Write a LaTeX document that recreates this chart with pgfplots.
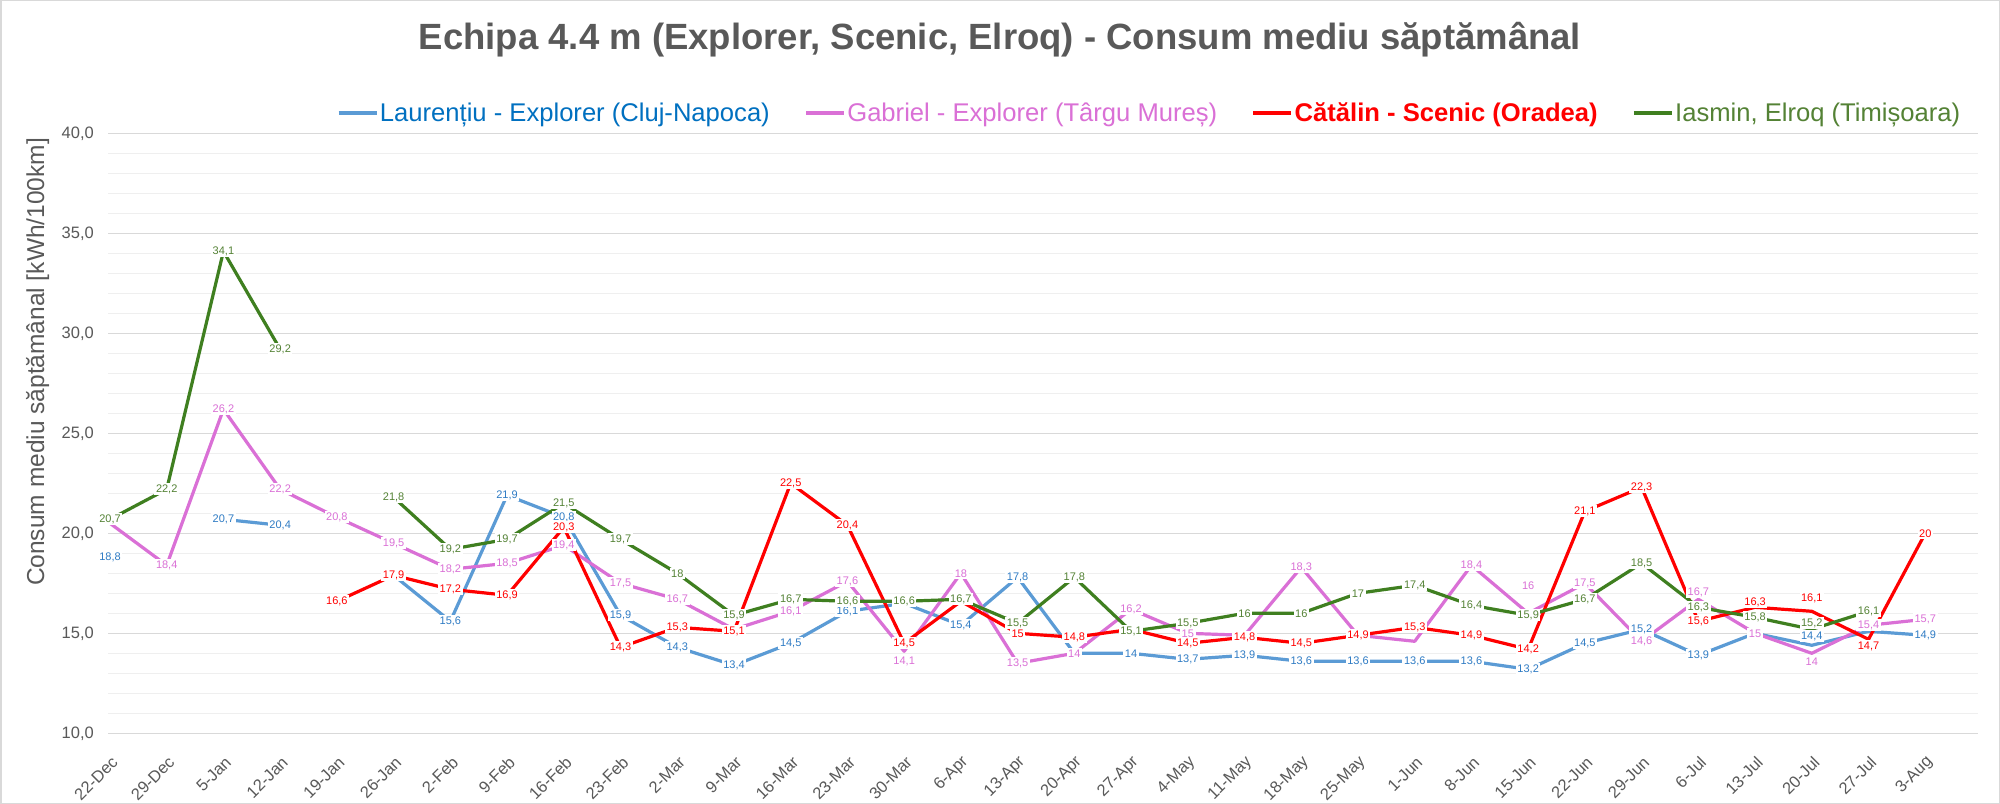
\documentclass[border=0pt]{standalone}
\usepackage{pgfplots}
\pgfplotsset{compat=1.18}
\usepackage{pgfplotstable}
\usepackage{fontspec}
\setmainfont{Liberation Sans}
\definecolor{bline}{HTML}{5B9BD5}
\definecolor{blab}{HTML}{2E7BC4}
\definecolor{bleg}{HTML}{0070C0}
\definecolor{pline}{HTML}{DA70D6}
\definecolor{rline}{HTML}{FF0000}
\definecolor{gline}{HTML}{3F7F20}
\definecolor{glab}{HTML}{548235}
\definecolor{txtgray}{HTML}{595959}
\definecolor{gridmaj}{HTML}{D9D9D9}
\definecolor{gridmin}{HTML}{EFEFEF}
\newcommand\lblfont{\fontsize{11bp}{13bp}\selectfont}

\pgfplotstableread{
x y ly lab dy
0 18.8 18.8 18,8 0
1 nan nan - 0
2 20.7 20.7 20,7 0
3 20.4 20.4 20,4 0
4 nan nan - 0
5 17.9 nan 17,9 0
6 15.6 15.6 15,6 0
7 21.9 21.9 21,9 0
8 20.8 20.8 20,8 0
9 15.9 15.9 15,9 0
10 14.3 14.3 14,3 0
11 13.4 13.4 13,4 0
12 14.5 14.5 14,5 0
13 16.1 16.1 16,1 0
14 16.5 nan 16,5 0
15 15.4 15.4 15,4 0
16 17.8 17.8 17,8 0
17 14.0 nan 14 0
18 14.0 14.0 14 0
19 13.7 13.7 13,7 0
20 13.9 13.9 13,9 0
21 13.6 13.6 13,6 0
22 13.6 13.6 13,6 0
23 13.6 13.6 13,6 0
24 13.6 13.6 13,6 0
25 13.2 13.2 13,2 0
26 14.5 14.5 14,5 0
27 15.2 15.2 15,2 0
28 13.9 13.9 13,9 0
29 15.0 15.0 15 0
30 14.4 14.4 14,4 9
31 15.1 nan 15,1 0
32 14.9 14.9 14,9 0
}\tblue

\pgfplotstableread{
x y ly lab dy
0 20.5 nan 20,5 0
1 18.4 18.4 18,4 0
2 26.2 26.2 26,2 0
3 22.2 22.2 22,2 0
4 20.8 20.8 20,8 0
5 19.5 19.5 19,5 0
6 18.2 18.2 18,2 0
7 18.5 18.5 18,5 0
8 19.4 19.4 19,4 0
9 17.5 17.5 17,5 0
10 16.7 16.7 16,7 0
11 15.2 nan 15,2 0
12 16.1 16.1 16,1 0
13 17.6 17.6 17,6 0
14 14.1 14.1 14,1 -10
15 18.0 18.0 18 0
16 13.5 13.5 13,5 0
17 14.0 14.0 14 0
18 16.2 16.2 16,2 0
19 15.0 15.0 15 0
20 14.9 nan 14,9 0
21 18.3 18.3 18,3 0
22 14.9 nan 14,9 0
23 14.6 nan 14,6 0
24 18.4 18.4 18,4 0
25 16.0 16.0 16 28
26 17.5 17.5 17,5 0
27 14.6 14.6 14,6 0
28 16.7 16.7 16,7 7
29 15.0 15.0 15 0
30 14.0 14.0 14 -8
31 15.4 15.4 15,4 0
32 15.7 15.7 15,7 0
}\tpink

\pgfplotstableread{
x y ly lab dy
0 nan nan - 0
1 nan nan - 0
2 nan nan - 0
3 nan nan - 0
4 16.6 16.6 16,6 0
5 17.9 17.9 17,9 0
6 17.2 17.2 17,2 0
7 16.9 16.9 16,9 0
8 20.3 20.3 20,3 0
9 14.3 14.3 14,3 0
10 15.3 15.3 15,3 0
11 15.1 15.1 15,1 0
12 22.5 22.5 22,5 0
13 20.4 20.4 20,4 0
14 14.5 14.5 14,5 0
15 16.6 nan 16,6 0
16 15.0 15.0 15 0
17 14.8 14.8 14,8 0
18 15.2 nan 15,2 0
19 14.5 14.5 14,5 0
20 14.8 14.8 14,8 0
21 14.5 14.5 14,5 0
22 14.9 14.9 14,9 0
23 15.3 15.3 15,3 0
24 14.9 14.9 14,9 0
25 14.2 14.2 14,2 0
26 21.1 21.1 21,1 0
27 22.3 22.3 22,3 0
28 15.6 15.6 15,6 0
29 16.3 16.3 16,3 5
30 16.1 16.1 16,1 13
31 14.7 14.7 14,7 -7
32 20.0 20.0 20 0
}\tred

\pgfplotstableread{
x y ly lab dy
0 20.7 20.7 20,7 0
1 22.2 22.2 22,2 0
2 34.1 34.1 34,1 0
3 29.2 29.2 29,2 0
4 nan nan - 0
5 21.8 21.8 21,8 0
6 19.2 19.2 19,2 0
7 19.7 19.7 19,7 0
8 21.5 21.5 21,5 0
9 19.7 19.7 19,7 0
10 18.0 18.0 18 0
11 15.9 15.9 15,9 0
12 16.7 16.7 16,7 0
13 16.6 16.6 16,6 0
14 16.6 16.6 16,6 0
15 16.7 16.7 16,7 0
16 15.5 15.5 15,5 0
17 17.8 17.8 17,8 0
18 15.1 15.1 15,1 0
19 15.5 15.5 15,5 0
20 16.0 16.0 16 0
21 16.0 16.0 16 0
22 17.0 17.0 17 0
23 17.4 17.4 17,4 0
24 16.4 16.4 16,4 0
25 15.9 15.9 15,9 0
26 16.7 16.7 16,7 0
27 18.5 18.5 18,5 0
28 16.3 16.3 16,3 0
29 15.8 15.8 15,8 0
30 15.2 15.2 15,2 6
31 16.1 16.1 16,1 0
32 nan nan - 0
}\tgreen

\pgfplotsset{
  lblplot/.style={draw=none, mark=none, forget plot, unbounded coords=discard,
    nodes near coords, point meta=explicit symbolic,
    visualization depends on={\thisrow{dy}\as\labdy},
    every node near coord/.append style={text=#1, fill=white, inner sep=1.6bp,
      anchor=center, yshift=\labdy bp, font=\lblfont}},
  serline/.style={#1, line width=3.2bp, line join=round, unbounded coords=jump, mark=none}
}

\begin{document}
\begin{tikzpicture}
\useasboundingbox (0,0) rectangle (2000bp,804bp);
\fill[white] (0,0) rectangle (2000bp,804bp);
\draw[gridmaj, line width=1.5bp] (0.75bp,0.75bp) rectangle (1999.25bp,803.25bp);
\node[anchor=base, font=\fontsize{36.5bp}{42bp}\selectfont\bfseries, text=txtgray]
  at (1000bp,754bp) {Echipa 4.4 m (Explorer, Scenic, Elroq) - Consum mediu săptămânal};
\node[rotate=90, anchor=base, font=\fontsize{24.5bp}{28bp}\selectfont, text=txtgray]
  at (44bp,442bp) {Consum mediu săptămânal [kWh/100km]};
\begin{axis}[
  at={(108bp,70.7bp)}, anchor=south west,
  scale only axis, width=1870bp, height=600bp,
  xmin=-0.035, xmax=32.93, ymin=10, ymax=40,
  axis lines*=left, axis line style={draw=none},
  tick style={draw=none},
  major tick length=0pt, minor tick length=0pt,
  ytick={10,15,...,40}, minor ytick={11,12,13,14,16,17,18,19,21,22,23,24,26,27,28,29,31,32,33,34,36,37,38,39},
  ymajorgrids, yminorgrids,
  major grid style={gridmaj, line width=1.3bp},
  minor grid style={gridmin, line width=1bp},
  xtick={0,...,32},
  xticklabels={22-Dec,29-Dec,5-Jan,12-Jan,19-Jan,26-Jan,2-Feb,9-Feb,16-Feb,23-Feb,2-Mar,9-Mar,16-Mar,23-Mar,30-Mar,6-Apr,13-Apr,20-Apr,27-Apr,4-May,11-May,18-May,25-May,1-Jun,8-Jun,15-Jun,22-Jun,29-Jun,6-Jul,13-Jul,20-Jul,27-Jul,3-Aug},
  tick label style={font=\fontsize{16.5bp}{19bp}\selectfont, text=txtgray},
  xticklabel style={rotate=45, anchor=east, inner sep=0pt, xshift=-15bp, yshift=-22bp},
  yticklabel style={anchor=east, inner sep=0pt, xshift=-14bp,
    /pgf/number format/.cd, fixed, fixed zerofill, precision=1, use comma},
  /pgf/number format/assume math mode=true,
  legend columns=4,
  legend cell align=left,
  legend image code/.code={\draw[#1, line width=3.5bp, line cap=butt] (0bp,0bp) -- (38bp,0bp);},
  legend style={draw=none, fill=none, at={(0.993,1.034)}, anchor=east,
    font=\fontsize{25.6bp}{29bp}\selectfont, nodes={inner sep=1.5bp},
    /tikz/every even column/.append style={column sep=33bp}},
]
\addplot[serline=bline] table[x=x,y=y] {\tblue};
\addlegendentry{\textcolor{bleg}{Laurențiu - Explorer (Cluj-Napoca)}}
\addplot[serline=pline] table[x=x,y=y] {\tpink};
\addlegendentry{\textcolor{pline}{Gabriel - Explorer (Târgu Mureș)}}
\addplot[serline=rline] table[x=x,y=y] {\tred};
\addlegendentry{\textcolor{rline}{\bfseries Cătălin - Scenic (Oradea)}}
\addplot[serline=gline] table[x=x,y=y] {\tgreen};
\addlegendentry{\textcolor{glab}{Iasmin, Elroq (Timișoara)}}

\addplot[lblplot=blab] table[x=x,y=ly,meta=lab] {\tblue};
\addplot[lblplot=pline] table[x=x,y=ly,meta=lab] {\tpink};
\addplot[lblplot=rline] table[x=x,y=ly,meta=lab] {\tred};
\addplot[lblplot=glab] table[x=x,y=ly,meta=lab] {\tgreen};
\end{axis}
\end{tikzpicture}
\end{document}
